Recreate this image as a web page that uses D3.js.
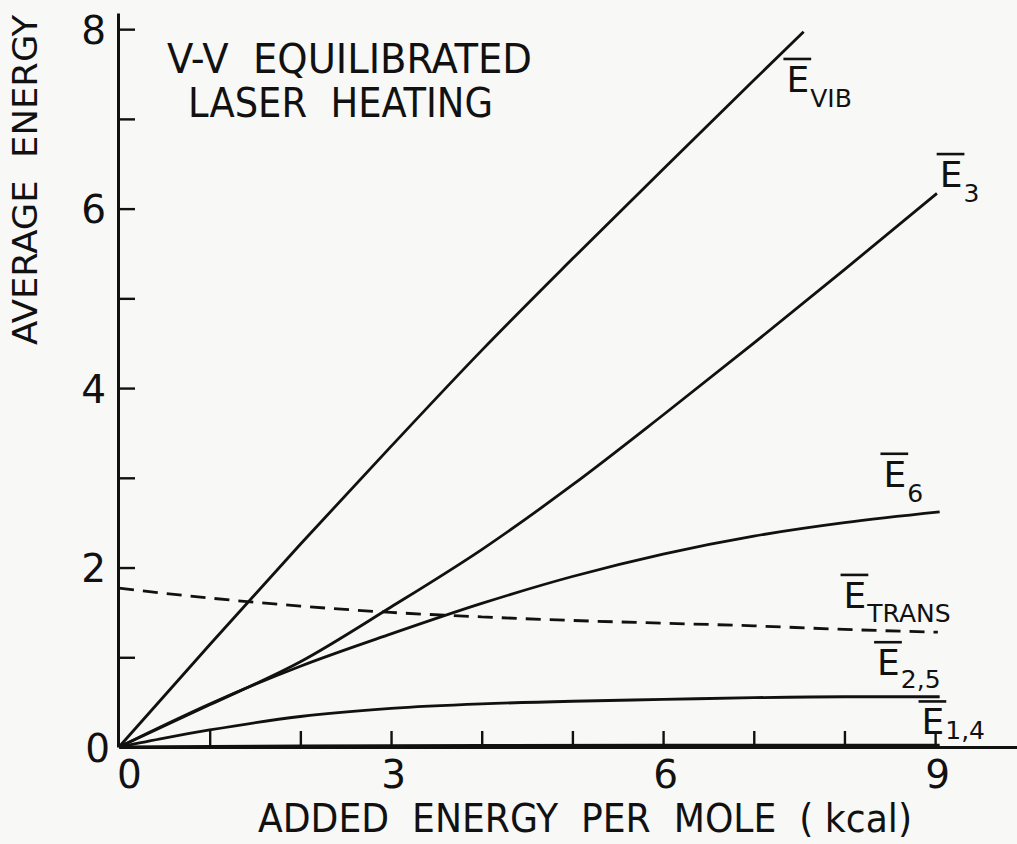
<!DOCTYPE html>
<html>
<head>
<meta charset="utf-8">
<script src="https://cdn.jsdelivr.net/npm/d3@7"></script>
<style>
  html, body { margin: 0; padding: 0; background: #f8f8f6; }
  svg { display: block; }
  text { font-family: "Liberation Sans Narrow", "DejaVu Sans Condensed", "Liberation Sans", sans-serif; fill: #111; }
</style>
</head>
<body>
<svg id="chart" width="1017" height="844"></svg>
<script>
// Added energy per mole (kcal) sample points and the average energy of each mode
const xVib = [0, 1, 2, 3, 4, 5, 6, 7, 7.55];
const eVib = [0, 1.14, 2.26, 3.35, 4.42, 5.44, 6.44, 7.43, 7.97];

const x3 = [0, 1, 2, 3, 4, 5, 6, 7, 8, 9.02];
const e3 = [0, 0.47, 0.95, 1.56, 2.20, 2.92, 3.70, 4.50, 5.32, 6.17];

const x6 = [0, 1, 2, 3, 4, 5, 6, 7, 8, 9.05];
const e6 = [0, 0.48, 0.90, 1.26, 1.60, 1.90, 2.15, 2.35, 2.50, 2.62];

const xTrans = [0, 1, 2, 3, 4, 5, 6, 7, 8, 9.03];
const eTrans = [1.77, 1.66, 1.57, 1.50, 1.45, 1.41, 1.38, 1.35, 1.31, 1.28];

const x25 = [0, 0.5, 1, 2, 3, 4, 5, 6, 7, 8, 9.05];
const e25 = [0, 0.10, 0.19, 0.34, 0.43, 0.48, 0.51, 0.53, 0.55, 0.56, 0.56];

const x14 = [0, 2, 4, 6, 8, 9.05];
const e14 = [0, 0.012, 0.018, 0.02, 0.02, 0.02];

// Axis ticks and labels
const xTicks = [0, 1, 2, 3, 4, 5, 6, 7, 8, 9];
const xTickLabels = ["0", "", "", "3", "", "", "6", "", "", "9"];
const yTicks = [0, 1, 2, 3, 4, 5, 6, 7, 8];
const yTickLabels = ["0", "", "2", "", "4", "", "6", "", "8"];

const titleLines = ["V-V  EQUILIBRATED", "LASER  HEATING"];
const xTitle = "ADDED  ENERGY  PER  MOLE  ( kcal)";
const yTitle = "AVERAGE  ENERGY";

const svg = d3.select("#chart");

const x = d3.scaleLinear().domain([0, 9.98]).range([119, 1024]);
const y = d3.scaleLinear().domain([0, 8.18]).range([747, 13]);

const ink = "#111";

// Axes: ticks point into the plot
const xAxis = d3.axisBottom(x)
  .tickValues(xTicks)
  .tickSizeInner(-16)
  .tickSizeOuter(0)
  .tickPadding(13)
  .tickFormat((d, i) => xTickLabels[i]);

const yAxis = d3.axisLeft(y)
  .tickValues(yTicks)
  .tickSizeInner(-17)
  .tickSizeOuter(0)
  .tickPadding(12)
  .tickFormat((d, i) => yTickLabels[i]);

const gx = svg.append("g").attr("transform", `translate(0,${y(0)})`).call(xAxis);
const gy = svg.append("g").attr("transform", `translate(${x(0) - 1},0)`).call(yAxis);

[gx, gy].forEach(g => {
  g.select(".domain").attr("stroke", ink).attr("stroke-width", 3);
  g.selectAll(".tick line").attr("stroke", ink).attr("stroke-width", 2.4);
  g.selectAll(".tick text")
    .attr("fill", ink)
    .style("font-family", "'DejaVu Sans', sans-serif")
    .style("font-size", "39px");
});
// Baselines in plain pixels below the x axis / centred on y ticks
gx.selectAll(".tick text").attr("y", 41).attr("dy", null).attr("dx", (d) => d === 0 ? 10 : 2);
gy.selectAll(".tick text").attr("dy", 14).attr("dx", (d) => d === 0 ? 4 : 0);
gx.selectAll(".tick").filter(d => d === 0).select("line").remove();
gy.selectAll(".tick").filter(d => d === 0).select("line").remove();

// Curves
const line = d3.line().curve(d3.curveMonotoneX).x(d => x(d[0])).y(d => y(d[1]));
const series = [
  { xs: xVib, ys: eVib, dash: null },
  { xs: x3, ys: e3, dash: null },
  { xs: x6, ys: e6, dash: null },
  { xs: xTrans, ys: eTrans, dash: "15,9" },
  { xs: x25, ys: e25, dash: null },
  { xs: x14, ys: e14, dash: null }
];
svg.append("g").selectAll("path")
  .data(series)
  .join("path")
  .attr("d", s => line(s.xs.map((v, i) => [v, s.ys[i]])))
  .attr("fill", "none")
  .attr("stroke", ink)
  .attr("stroke-width", 2.8)
  .attr("stroke-linecap", "butt")
  .attr("stroke-dasharray", s => s.dash);

// Curve labels: E with an overbar and a subscript
const curveLabels = [
  { sub: "VIB", at: [7.36, 7.30], subDy: 15 },
  { sub: "3", at: [9.05, 6.24], subDy: 15 },
  { sub: "6", at: [8.43, 2.90], subDy: 15 },
  { sub: "TRANS", at: [7.99, 1.55], subDy: 14 },
  { sub: "2,5", at: [8.36, 0.80], subDy: 13 },
  { sub: "1,4", at: [8.85, 0.14], subDy: 5 }
];
const lab = svg.append("g");
curveLabels.forEach(c => {
  const px = x(c.at[0]), py = y(c.at[1]);
  const t = lab.append("text").attr("x", px).attr("y", py)
    .style("font-family", "'DejaVu Sans', sans-serif");
  const e = t.append("tspan").text("E").style("font-size", "36px");
  t.append("tspan").text(c.sub)
    .attr("dx", 1).attr("dy", c.subDy)
    .style("font-size", "25px");
  const ew = e.node().getComputedTextLength();
  lab.append("line")
    .attr("x1", px - 3).attr("x2", px + ew + 2)
    .attr("y1", py - 33).attr("y2", py - 33)
    .attr("stroke", ink).attr("stroke-width", 2.6);
});

// Title block
const title = [
  { text: titleLines[0], x: 167, y: 73, w: 365 },
  { text: titleLines[1], x: 188, y: 117, w: 305 }
];
svg.append("g").selectAll("text")
  .data(title)
  .join("text")
  .attr("x", d => d.x).attr("y", d => d.y)
  .attr("textLength", d => d.w)
  .attr("lengthAdjust", "spacingAndGlyphs")
  .style("font-size", "40px")
  .style("white-space", "pre")
  .text(d => d.text);

// Axis titles
svg.append("text")
  .attr("x", 258).attr("y", 832)
  .attr("textLength", 654)
  .attr("lengthAdjust", "spacingAndGlyphs")
  .style("font-size", "39px")
  .style("white-space", "pre")
  .text(xTitle);

svg.append("text")
  .attr("transform", "translate(37,345) rotate(-90)")
  .attr("textLength", 330)
  .attr("lengthAdjust", "spacingAndGlyphs")
  .style("font-size", "33px")
  .style("white-space", "pre")
  .text(yTitle);
</script>
</body>
</html>
